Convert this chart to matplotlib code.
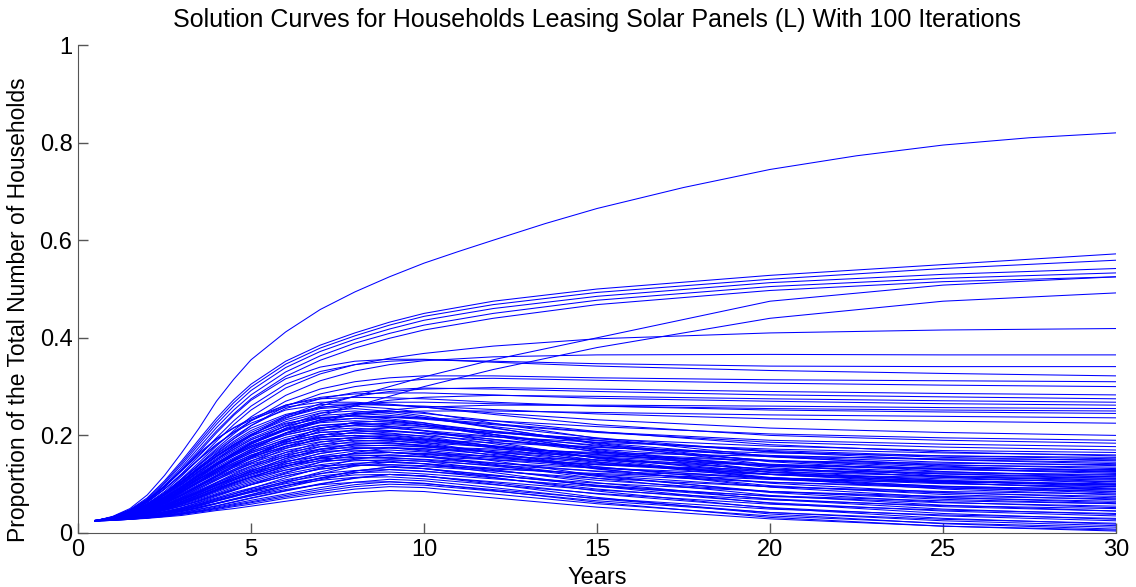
import matplotlib
matplotlib.use("Agg")
import matplotlib.pyplot as plt

YEARS = [0.5, 1, 1.5, 2, 2.5, 3, 3.5, 4, 4.5, 5, 6, 7, 8, 9, 10, 12, 15, 20, 25, 30]

# The single curve that climbs towards 0.82 (read at a few extra times, it bends the most).
TOP_YEARS = [0.5, 1, 1.5, 2, 2.5, 3, 3.5, 4, 4.5, 5, 6, 7, 8, 9, 10, 11, 12, 13.5, 15,
             17.5, 20, 22.5, 25, 27.5, 30]
TOP_CURVE = [0.025, 0.034, 0.05, 0.078, 0.118, 0.165, 0.215, 0.27, 0.315, 0.355, 0.412,
             0.458, 0.494, 0.525, 0.553, 0.577, 0.60, 0.634, 0.665, 0.708, 0.745, 0.773,
             0.795, 0.81, 0.82]

# Bundle ending around 0.5-0.57 (last two are the late risers).
UPPER_CURVES = [
    [0.025, 0.033, 0.048, 0.072, 0.107, 0.148, 0.192, 0.235, 0.273, 0.305, 0.352, 0.385, 0.41, 0.432, 0.45, 0.475, 0.50, 0.528, 0.55, 0.572],
    [0.025, 0.033, 0.047, 0.07, 0.104, 0.144, 0.187, 0.229, 0.267, 0.299, 0.346, 0.379, 0.404, 0.426, 0.444, 0.468, 0.493, 0.52, 0.542, 0.559],
    [0.025, 0.032, 0.046, 0.068, 0.101, 0.14, 0.182, 0.223, 0.26, 0.292, 0.339, 0.372, 0.397, 0.418, 0.436, 0.46, 0.485, 0.513, 0.53, 0.542],
    [0.025, 0.032, 0.045, 0.066, 0.097, 0.135, 0.176, 0.216, 0.252, 0.283, 0.33, 0.363, 0.389, 0.409, 0.426, 0.45, 0.477, 0.505, 0.522, 0.533],
    [0.025, 0.032, 0.044, 0.064, 0.094, 0.131, 0.17, 0.209, 0.244, 0.275, 0.321, 0.354, 0.379, 0.399, 0.416, 0.44, 0.468, 0.497, 0.515, 0.525],
    [0.025, 0.031, 0.042, 0.058, 0.08, 0.105, 0.132, 0.158, 0.182, 0.202, 0.235, 0.26, 0.28, 0.30, 0.32, 0.355, 0.40, 0.475, 0.508, 0.525],
    [0.025, 0.03, 0.04, 0.054, 0.073, 0.095, 0.119, 0.142, 0.163, 0.182, 0.215, 0.24, 0.26, 0.28, 0.30, 0.335, 0.38, 0.44, 0.475, 0.492],
]

# Curves that level off between 0.18 and 0.42.
MIDDLE_CURVES = [
    [0.025, 0.031, 0.042, 0.06, 0.085, 0.117, 0.152, 0.188, 0.222, 0.252, 0.297, 0.326, 0.345, 0.358, 0.368, 0.383, 0.398, 0.41, 0.416, 0.419],
    [0.025, 0.031, 0.042, 0.058, 0.082, 0.112, 0.145, 0.178, 0.21, 0.238, 0.282, 0.312, 0.332, 0.345, 0.353, 0.361, 0.365, 0.366, 0.365, 0.365],
    [0.025, 0.032, 0.044, 0.063, 0.09, 0.122, 0.158, 0.195, 0.23, 0.26, 0.305, 0.331, 0.345, 0.352, 0.355, 0.352, 0.347, 0.342, 0.341, 0.341],
    [0.025, 0.032, 0.045, 0.066, 0.094, 0.128, 0.166, 0.205, 0.241, 0.272, 0.316, 0.34, 0.352, 0.356, 0.356, 0.35, 0.342, 0.333, 0.327, 0.322],
    [0.025, 0.031, 0.042, 0.058, 0.082, 0.11, 0.141, 0.173, 0.203, 0.23, 0.27, 0.295, 0.31, 0.318, 0.322, 0.322, 0.318, 0.314, 0.312, 0.31],
    [0.025, 0.031, 0.041, 0.056, 0.078, 0.105, 0.134, 0.164, 0.193, 0.22, 0.26, 0.285, 0.30, 0.309, 0.315, 0.317, 0.313, 0.307, 0.303, 0.30],
    [0.025, 0.03, 0.039, 0.052, 0.071, 0.095, 0.122, 0.15, 0.176, 0.20, 0.24, 0.265, 0.28, 0.29, 0.295, 0.298, 0.295, 0.29, 0.286, 0.283],
    [0.025, 0.031, 0.042, 0.058, 0.082, 0.11, 0.14, 0.17, 0.197, 0.22, 0.255, 0.275, 0.288, 0.294, 0.297, 0.295, 0.29, 0.283, 0.279, 0.275],
    [0.025, 0.03, 0.038, 0.05, 0.068, 0.09, 0.114, 0.14, 0.163, 0.185, 0.22, 0.245, 0.262, 0.272, 0.278, 0.282, 0.28, 0.275, 0.271, 0.268],
    [0.025, 0.032, 0.044, 0.063, 0.09, 0.12, 0.151, 0.18, 0.207, 0.23, 0.262, 0.278, 0.285, 0.287, 0.287, 0.283, 0.276, 0.27, 0.265, 0.262],
    [0.025, 0.029, 0.036, 0.047, 0.063, 0.083, 0.106, 0.13, 0.152, 0.172, 0.205, 0.228, 0.243, 0.252, 0.258, 0.262, 0.262, 0.26, 0.257, 0.255],
    [0.025, 0.031, 0.041, 0.057, 0.08, 0.106, 0.134, 0.162, 0.188, 0.21, 0.24, 0.257, 0.265, 0.268, 0.268, 0.265, 0.26, 0.255, 0.252, 0.25],
    [0.025, 0.032, 0.046, 0.067, 0.095, 0.128, 0.161, 0.192, 0.216, 0.235, 0.262, 0.275, 0.278, 0.277, 0.275, 0.268, 0.26, 0.252, 0.248, 0.245],
    [0.025, 0.03, 0.038, 0.05, 0.068, 0.09, 0.114, 0.138, 0.161, 0.182, 0.212, 0.232, 0.243, 0.248, 0.25, 0.25, 0.247, 0.242, 0.239, 0.236],
    [0.025, 0.031, 0.042, 0.058, 0.082, 0.11, 0.139, 0.167, 0.193, 0.215, 0.243, 0.258, 0.263, 0.262, 0.26, 0.253, 0.244, 0.234, 0.229, 0.225],
    [0.025, 0.032, 0.044, 0.063, 0.09, 0.12, 0.152, 0.182, 0.206, 0.225, 0.252, 0.263, 0.265, 0.262, 0.258, 0.246, 0.232, 0.215, 0.206, 0.20],
    [0.025, 0.03, 0.039, 0.052, 0.071, 0.094, 0.118, 0.143, 0.165, 0.185, 0.212, 0.228, 0.235, 0.237, 0.236, 0.23, 0.218, 0.203, 0.195, 0.19],
    [0.025, 0.033, 0.047, 0.068, 0.097, 0.13, 0.164, 0.193, 0.215, 0.232, 0.258, 0.268, 0.268, 0.264, 0.258, 0.243, 0.222, 0.20, 0.19, 0.184],
    [0.025, 0.031, 0.041, 0.056, 0.078, 0.104, 0.131, 0.157, 0.18, 0.20, 0.225, 0.237, 0.24, 0.238, 0.235, 0.224, 0.207, 0.19, 0.182, 0.177],
]

# The dense band: peak around year 7-9, then drift down.
LOWER_CURVES = [
    [0.025, 0.026, 0.028, 0.030, 0.033, 0.036, 0.041, 0.046, 0.050, 0.055, 0.065, 0.075, 0.083, 0.087, 0.085, 0.072, 0.053, 0.029, 0.014, 0.006],
    [0.025, 0.026, 0.028, 0.031, 0.034, 0.038, 0.043, 0.048, 0.054, 0.059, 0.071, 0.081, 0.090, 0.095, 0.093, 0.080, 0.060, 0.035, 0.020, 0.012],
    [0.025, 0.027, 0.028, 0.031, 0.034, 0.039, 0.044, 0.050, 0.056, 0.062, 0.074, 0.085, 0.095, 0.100, 0.098, 0.086, 0.066, 0.042, 0.028, 0.020],
    [0.025, 0.027, 0.030, 0.034, 0.039, 0.046, 0.053, 0.061, 0.069, 0.076, 0.089, 0.099, 0.104, 0.105, 0.101, 0.089, 0.071, 0.049, 0.037, 0.030],
    [0.025, 0.027, 0.029, 0.032, 0.036, 0.040, 0.046, 0.053, 0.060, 0.067, 0.080, 0.093, 0.104, 0.110, 0.107, 0.093, 0.070, 0.042, 0.025, 0.015],
    [0.025, 0.027, 0.030, 0.035, 0.041, 0.048, 0.057, 0.066, 0.075, 0.083, 0.097, 0.108, 0.114, 0.115, 0.111, 0.099, 0.081, 0.059, 0.047, 0.040],
    [0.025, 0.027, 0.029, 0.033, 0.037, 0.042, 0.049, 0.056, 0.064, 0.072, 0.087, 0.101, 0.113, 0.120, 0.117, 0.103, 0.080, 0.052, 0.035, 0.025],
    [0.025, 0.027, 0.031, 0.036, 0.042, 0.050, 0.058, 0.068, 0.077, 0.086, 0.101, 0.112, 0.119, 0.120, 0.116, 0.105, 0.088, 0.068, 0.056, 0.050],
    [0.025, 0.028, 0.031, 0.036, 0.043, 0.051, 0.060, 0.070, 0.080, 0.089, 0.105, 0.117, 0.124, 0.125, 0.121, 0.111, 0.095, 0.076, 0.066, 0.060],
    [0.025, 0.027, 0.030, 0.033, 0.038, 0.044, 0.051, 0.060, 0.068, 0.076, 0.093, 0.109, 0.123, 0.130, 0.127, 0.113, 0.090, 0.062, 0.045, 0.035],
    [0.025, 0.028, 0.031, 0.037, 0.044, 0.052, 0.062, 0.072, 0.083, 0.092, 0.109, 0.122, 0.128, 0.130, 0.126, 0.117, 0.102, 0.085, 0.075, 0.070],
    [0.025, 0.027, 0.030, 0.034, 0.039, 0.045, 0.053, 0.061, 0.070, 0.079, 0.097, 0.113, 0.127, 0.135, 0.132, 0.119, 0.097, 0.070, 0.054, 0.045],
    [0.025, 0.028, 0.032, 0.038, 0.046, 0.055, 0.065, 0.077, 0.088, 0.099, 0.117, 0.131, 0.138, 0.140, 0.136, 0.127, 0.112, 0.095, 0.085, 0.080],
    [0.025, 0.028, 0.034, 0.042, 0.053, 0.065, 0.079, 0.092, 0.103, 0.114, 0.129, 0.138, 0.140, 0.137, 0.132, 0.118, 0.098, 0.075, 0.062, 0.055],
    [0.025, 0.028, 0.032, 0.038, 0.047, 0.056, 0.067, 0.079, 0.091, 0.102, 0.121, 0.135, 0.143, 0.145, 0.142, 0.133, 0.120, 0.104, 0.095, 0.090],
    [0.025, 0.029, 0.035, 0.044, 0.055, 0.069, 0.084, 0.098, 0.110, 0.121, 0.138, 0.148, 0.150, 0.147, 0.142, 0.128, 0.108, 0.085, 0.072, 0.065],
    [0.025, 0.028, 0.033, 0.039, 0.048, 0.058, 0.069, 0.081, 0.094, 0.105, 0.125, 0.140, 0.148, 0.150, 0.147, 0.139, 0.127, 0.113, 0.105, 0.100],
    [0.025, 0.028, 0.033, 0.039, 0.048, 0.059, 0.071, 0.084, 0.097, 0.108, 0.129, 0.145, 0.153, 0.155, 0.150, 0.137, 0.118, 0.095, 0.082, 0.075],
    [0.025, 0.029, 0.035, 0.045, 0.056, 0.071, 0.086, 0.100, 0.113, 0.125, 0.142, 0.152, 0.155, 0.153, 0.151, 0.143, 0.133, 0.120, 0.114, 0.110],
    [0.025, 0.028, 0.033, 0.040, 0.049, 0.060, 0.072, 0.086, 0.099, 0.111, 0.133, 0.149, 0.158, 0.160, 0.156, 0.144, 0.126, 0.104, 0.092, 0.085],
    [0.025, 0.029, 0.036, 0.045, 0.057, 0.072, 0.088, 0.103, 0.117, 0.129, 0.147, 0.157, 0.160, 0.158, 0.156, 0.150, 0.140, 0.129, 0.123, 0.120],
    [0.025, 0.029, 0.033, 0.040, 0.050, 0.061, 0.074, 0.088, 0.102, 0.115, 0.137, 0.154, 0.163, 0.165, 0.161, 0.150, 0.133, 0.113, 0.101, 0.095],
    [0.025, 0.028, 0.033, 0.040, 0.049, 0.060, 0.073, 0.087, 0.101, 0.114, 0.136, 0.153, 0.163, 0.165, 0.163, 0.157, 0.149, 0.139, 0.133, 0.130],
    [0.025, 0.029, 0.037, 0.047, 0.060, 0.076, 0.093, 0.109, 0.124, 0.137, 0.156, 0.167, 0.170, 0.166, 0.159, 0.141, 0.116, 0.085, 0.069, 0.060],
    [0.025, 0.029, 0.034, 0.041, 0.051, 0.063, 0.076, 0.090, 0.105, 0.118, 0.141, 0.158, 0.168, 0.170, 0.166, 0.156, 0.140, 0.121, 0.111, 0.105],
    [0.025, 0.030, 0.037, 0.048, 0.061, 0.078, 0.096, 0.112, 0.127, 0.141, 0.160, 0.172, 0.175, 0.174, 0.172, 0.166, 0.158, 0.148, 0.143, 0.140],
    [0.025, 0.029, 0.034, 0.042, 0.052, 0.064, 0.078, 0.093, 0.108, 0.121, 0.145, 0.163, 0.173, 0.175, 0.170, 0.156, 0.135, 0.110, 0.096, 0.088],
    [0.025, 0.029, 0.034, 0.042, 0.053, 0.065, 0.079, 0.095, 0.110, 0.124, 0.149, 0.168, 0.178, 0.180, 0.176, 0.166, 0.150, 0.131, 0.121, 0.115],
    [0.025, 0.030, 0.037, 0.048, 0.062, 0.079, 0.098, 0.115, 0.130, 0.144, 0.165, 0.177, 0.180, 0.179, 0.177, 0.172, 0.165, 0.157, 0.152, 0.150],
    [0.025, 0.029, 0.035, 0.043, 0.054, 0.067, 0.081, 0.097, 0.113, 0.127, 0.153, 0.172, 0.183, 0.185, 0.180, 0.166, 0.145, 0.120, 0.106, 0.098],
    [0.025, 0.030, 0.038, 0.049, 0.063, 0.081, 0.100, 0.118, 0.134, 0.148, 0.169, 0.182, 0.185, 0.183, 0.179, 0.169, 0.156, 0.139, 0.130, 0.125],
    [0.025, 0.029, 0.035, 0.043, 0.055, 0.068, 0.083, 0.099, 0.116, 0.131, 0.157, 0.177, 0.188, 0.190, 0.183, 0.164, 0.136, 0.102, 0.083, 0.072],
    [0.025, 0.030, 0.038, 0.050, 0.065, 0.083, 0.103, 0.121, 0.137, 0.152, 0.174, 0.187, 0.190, 0.188, 0.185, 0.176, 0.163, 0.148, 0.139, 0.135],
    [0.025, 0.029, 0.035, 0.044, 0.056, 0.069, 0.085, 0.102, 0.119, 0.134, 0.161, 0.181, 0.193, 0.195, 0.190, 0.176, 0.155, 0.130, 0.116, 0.108],
    [0.025, 0.030, 0.039, 0.051, 0.066, 0.085, 0.105, 0.124, 0.141, 0.156, 0.178, 0.192, 0.195, 0.193, 0.191, 0.185, 0.175, 0.164, 0.158, 0.155],
    [0.025, 0.030, 0.039, 0.051, 0.067, 0.086, 0.107, 0.127, 0.144, 0.160, 0.183, 0.197, 0.200, 0.197, 0.192, 0.179, 0.160, 0.137, 0.125, 0.118],
    [0.025, 0.029, 0.036, 0.044, 0.057, 0.071, 0.086, 0.104, 0.121, 0.137, 0.165, 0.186, 0.197, 0.200, 0.193, 0.174, 0.146, 0.112, 0.093, 0.082],
    [0.025, 0.030, 0.039, 0.052, 0.068, 0.088, 0.110, 0.129, 0.147, 0.164, 0.187, 0.201, 0.205, 0.203, 0.199, 0.189, 0.176, 0.159, 0.150, 0.145],
    [0.026, 0.031, 0.040, 0.053, 0.069, 0.089, 0.110, 0.130, 0.148, 0.164, 0.187, 0.201, 0.205, 0.201, 0.195, 0.178, 0.154, 0.124, 0.108, 0.100],
    [0.025, 0.030, 0.036, 0.045, 0.058, 0.073, 0.090, 0.108, 0.127, 0.143, 0.173, 0.195, 0.207, 0.210, 0.205, 0.192, 0.172, 0.149, 0.135, 0.128],
    [0.025, 0.031, 0.040, 0.053, 0.069, 0.090, 0.112, 0.132, 0.151, 0.167, 0.192, 0.206, 0.210, 0.208, 0.205, 0.197, 0.186, 0.172, 0.164, 0.160],
    [0.025, 0.031, 0.040, 0.054, 0.071, 0.092, 0.114, 0.135, 0.154, 0.171, 0.196, 0.211, 0.215, 0.210, 0.203, 0.183, 0.155, 0.120, 0.102, 0.092],
    [0.025, 0.030, 0.036, 0.046, 0.059, 0.074, 0.092, 0.111, 0.130, 0.147, 0.177, 0.200, 0.212, 0.215, 0.210, 0.198, 0.180, 0.157, 0.145, 0.138],
    [0.025, 0.031, 0.041, 0.054, 0.072, 0.093, 0.117, 0.138, 0.158, 0.175, 0.201, 0.216, 0.220, 0.216, 0.209, 0.192, 0.167, 0.137, 0.121, 0.112],
    [0.025, 0.031, 0.041, 0.055, 0.073, 0.094, 0.117, 0.139, 0.158, 0.176, 0.201, 0.216, 0.220, 0.218, 0.215, 0.206, 0.193, 0.178, 0.169, 0.165],
    [0.025, 0.030, 0.037, 0.047, 0.061, 0.077, 0.095, 0.115, 0.135, 0.153, 0.185, 0.209, 0.222, 0.225, 0.219, 0.202, 0.178, 0.148, 0.131, 0.122],
    [0.025, 0.031, 0.041, 0.055, 0.073, 0.095, 0.119, 0.141, 0.161, 0.179, 0.205, 0.221, 0.225, 0.219, 0.210, 0.187, 0.153, 0.112, 0.090, 0.078],
    [0.025, 0.031, 0.041, 0.056, 0.074, 0.097, 0.121, 0.144, 0.164, 0.183, 0.210, 0.226, 0.230, 0.227, 0.222, 0.209, 0.190, 0.167, 0.155, 0.148],
    [0.025, 0.030, 0.037, 0.048, 0.062, 0.078, 0.097, 0.117, 0.138, 0.156, 0.189, 0.214, 0.227, 0.230, 0.222, 0.202, 0.171, 0.134, 0.114, 0.102],
    [0.025, 0.031, 0.042, 0.057, 0.075, 0.099, 0.124, 0.147, 0.168, 0.187, 0.214, 0.231, 0.235, 0.231, 0.225, 0.208, 0.185, 0.156, 0.140, 0.132],
    [0.025, 0.031, 0.042, 0.057, 0.077, 0.100, 0.126, 0.150, 0.171, 0.191, 0.219, 0.236, 0.240, 0.237, 0.233, 0.222, 0.206, 0.186, 0.176, 0.170],
    [0.026, 0.032, 0.043, 0.058, 0.078, 0.101, 0.127, 0.150, 0.172, 0.191, 0.219, 0.235, 0.240, 0.234, 0.226, 0.202, 0.169, 0.128, 0.107, 0.095],
    [0.025, 0.032, 0.043, 0.058, 0.078, 0.102, 0.128, 0.153, 0.175, 0.194, 0.223, 0.241, 0.245, 0.241, 0.235, 0.218, 0.195, 0.166, 0.150, 0.142],
    [0.025, 0.032, 0.043, 0.059, 0.079, 0.104, 0.131, 0.156, 0.178, 0.198, 0.228, 0.246, 0.250, 0.245, 0.237, 0.215, 0.184, 0.146, 0.126, 0.115],
    [0.025, 0.031, 0.039, 0.050, 0.066, 0.084, 0.104, 0.126, 0.149, 0.169, 0.205, 0.232, 0.247, 0.250, 0.245, 0.230, 0.208, 0.181, 0.166, 0.158],
    [0.025, 0.032, 0.043, 0.060, 0.080, 0.106, 0.133, 0.158, 0.181, 0.202, 0.232, 0.250, 0.255, 0.249, 0.240, 0.216, 0.182, 0.140, 0.117, 0.105],
    [0.025, 0.032, 0.044, 0.060, 0.081, 0.107, 0.136, 0.161, 0.185, 0.206, 0.237, 0.255, 0.260, 0.255, 0.247, 0.225, 0.194, 0.157, 0.137, 0.126],
    [0.025, 0.028, 0.031, 0.036, 0.042, 0.049, 0.059, 0.070, 0.080, 0.091, 0.113, 0.133, 0.151, 0.160, 0.157, 0.139, 0.112, 0.077, 0.057, 0.045],
    [0.025, 0.029, 0.034, 0.042, 0.052, 0.064, 0.078, 0.093, 0.108, 0.121, 0.145, 0.163, 0.173, 0.175, 0.168, 0.148, 0.118, 0.083, 0.063, 0.052],
    [0.025, 0.027, 0.030, 0.035, 0.040, 0.047, 0.055, 0.065, 0.074, 0.084, 0.103, 0.121, 0.137, 0.145, 0.142, 0.124, 0.096, 0.061, 0.040, 0.028],
    [0.025, 0.031, 0.040, 0.052, 0.068, 0.087, 0.107, 0.126, 0.143, 0.159, 0.182, 0.196, 0.200, 0.194, 0.186, 0.164, 0.132, 0.094, 0.073, 0.062],
    [0.024, 0.026, 0.029, 0.033, 0.038, 0.044, 0.052, 0.060, 0.069, 0.078, 0.096, 0.112, 0.127, 0.135, 0.132, 0.114, 0.086, 0.051, 0.030, 0.018],
    [0.024, 0.026, 0.028, 0.032, 0.036, 0.041, 0.048, 0.055, 0.063, 0.071, 0.086, 0.100, 0.112, 0.120, 0.117, 0.100, 0.073, 0.039, 0.019, 0.008],
    [0.025, 0.027, 0.029, 0.031, 0.035, 0.039, 0.045, 0.051, 0.058, 0.064, 0.077, 0.089, 0.099, 0.105, 0.102, 0.087, 0.063, 0.032, 0.014, 0.004],
    [0.024, 0.030, 0.039, 0.052, 0.068, 0.089, 0.111, 0.132, 0.150, 0.167, 0.191, 0.206, 0.210, 0.205, 0.198, 0.178, 0.149, 0.114, 0.095, 0.085],
    [0.025, 0.029, 0.035, 0.044, 0.055, 0.068, 0.082, 0.098, 0.113, 0.127, 0.152, 0.171, 0.182, 0.185, 0.178, 0.159, 0.131, 0.097, 0.079, 0.068],
    [0.025, 0.028, 0.031, 0.035, 0.041, 0.048, 0.056, 0.066, 0.076, 0.086, 0.106, 0.125, 0.141, 0.150, 0.147, 0.130, 0.103, 0.069, 0.049, 0.038],
    [0.026, 0.029, 0.034, 0.041, 0.051, 0.062, 0.075, 0.089, 0.103, 0.115, 0.137, 0.154, 0.163, 0.165, 0.162, 0.153, 0.141, 0.125, 0.117, 0.112],
    [0.024, 0.030, 0.038, 0.050, 0.065, 0.084, 0.104, 0.123, 0.140, 0.155, 0.177, 0.191, 0.195, 0.192, 0.188, 0.177, 0.161, 0.141, 0.131, 0.125],
    [0.025, 0.028, 0.032, 0.037, 0.044, 0.052, 0.063, 0.075, 0.087, 0.099, 0.123, 0.145, 0.165, 0.175, 0.173, 0.161, 0.143, 0.120, 0.106, 0.098],
    [0.026, 0.029, 0.033, 0.039, 0.047, 0.056, 0.066, 0.078, 0.089, 0.099, 0.117, 0.131, 0.138, 0.140, 0.138, 0.131, 0.122, 0.110, 0.104, 0.100],
    [0.025, 0.031, 0.040, 0.054, 0.072, 0.094, 0.118, 0.140, 0.160, 0.178, 0.204, 0.220, 0.225, 0.222, 0.218, 0.206, 0.189, 0.169, 0.158, 0.152],
    [0.026, 0.031, 0.038, 0.049, 0.063, 0.079, 0.098, 0.118, 0.138, 0.157, 0.190, 0.214, 0.227, 0.230, 0.222, 0.199, 0.166, 0.125, 0.103, 0.090],
]

TITLE = "Solution Curves for Households Leasing Solar Panels (L) With 100 Iterations"
X_TICKS = [0, 5, 10, 15, 20, 25, 30]
Y_TICKS = [0, 0.2, 0.4, 0.6, 0.8, 1]
Y_TICK_LABELS = ["0", "0.2", "0.4", "0.6", "0.8", "1"]

plt.rcParams["font.family"] = ["Liberation Sans", "DejaVu Sans"]

fig = plt.figure(figsize=(11.36, 5.87), dpi=100)
ax = fig.add_axes([0.0687, 0.092, 0.9137, 0.8313])

ax.plot(TOP_YEARS, TOP_CURVE, color="#0000ff", lw=0.75)
for curve in UPPER_CURVES + MIDDLE_CURVES + LOWER_CURVES:
    ax.plot(YEARS, curve, color="#0000ff", lw=0.75)

ax.set_xlim(0, 30)
ax.set_ylim(0, 1)
ax.set_xticks(X_TICKS)
ax.set_yticks(Y_TICKS)
ax.set_yticklabels(Y_TICK_LABELS)

# MATLAB look: no box, inward ticks, grey axis lines
for side in ("top", "right"):
    ax.spines[side].set_visible(False)
for side in ("left", "bottom"):
    ax.spines[side].set_color("#555555")
ax.tick_params(direction="in", length=7, width=1, color="#555555",
               labelsize=17, pad=4)

ax.set_title(TITLE, fontsize=18, pad=13)
ax.set_xlabel("Years", fontsize=17, labelpad=4.5)
ax.set_ylabel("Proportion of the Total Number of Households", fontsize=16.5)
ax.yaxis.set_label_coords(-0.046, 0.457)

fig.savefig("out.png", dpi=100)
